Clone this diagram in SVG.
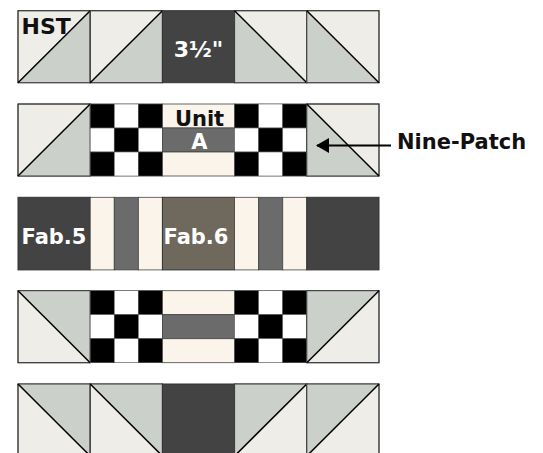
<svg xmlns="http://www.w3.org/2000/svg" width="543" height="453" viewBox="0 0 543 453">
<style>
.lt{fill:#efede8;stroke:#444;stroke-width:1}
.gr{fill:#cbd0ca;stroke:none}
.dk{fill:#434343;stroke:#333;stroke-width:1}
.br{fill:#6e685d;stroke:#333;stroke-width:1}
.cr{fill:#faf4ea;stroke:#444;stroke-width:0.8}
.gs{fill:#6b6b6b;stroke:#444;stroke-width:0.8}
.bk{fill:#000;stroke:#555;stroke-width:0.6}
.wh{fill:#fff;stroke:#555;stroke-width:0.6}
.dg{stroke:#000;stroke-width:1.5;fill:none}
.ol{fill:none;stroke:#3a3a3a;stroke-width:1}
.t{font-family:"DejaVu Sans","Liberation Sans",sans-serif;font-weight:bold}
.w{fill:#fff}
.b{fill:#111}
</style>
<defs>
<g id="np">
<rect class="wh" x="0" y="0" width="72.2" height="72"/>
<rect class="bk" x="0" y="0" width="24.07" height="24"/>
<rect class="wh" x="24.07" y="0" width="24.07" height="24"/>
<rect class="bk" x="48.13" y="0" width="24.07" height="24"/>
<rect class="wh" x="0" y="24" width="24.07" height="24"/>
<rect class="bk" x="24.07" y="24" width="24.07" height="24"/>
<rect class="wh" x="48.13" y="24" width="24.07" height="24"/>
<rect class="bk" x="0" y="48" width="24.07" height="24"/>
<rect class="wh" x="24.07" y="48" width="24.07" height="24"/>
<rect class="bk" x="48.13" y="48" width="24.07" height="24"/>
</g>
<g id="hstA">
<rect class="lt" x="0" y="0" width="72.2" height="72"/>
<polygon class="gr" points="0,72 72.2,0 72.2,72"/>
<rect class="ol" x="0" y="0" width="72.2" height="72"/>
<line class="dg" x1="0" y1="72" x2="72.2" y2="0"/>
</g>
<g id="hstB">
<rect class="lt" x="0" y="0" width="72.2" height="72"/>
<polygon class="gr" points="0,0 72.2,72 0,72"/>
<rect class="ol" x="0" y="0" width="72.2" height="72"/>
<line class="dg" x1="0" y1="0" x2="72.2" y2="72"/>
</g>
<g id="hstC">
<rect class="lt" x="0" y="0" width="72.2" height="72"/>
<polygon class="gr" points="0,0 72.2,0 72.2,72"/>
<rect class="ol" x="0" y="0" width="72.2" height="72"/>
<line class="dg" x1="0" y1="0" x2="72.2" y2="72"/>
</g>
<g id="hstD">
<rect class="lt" x="0" y="0" width="72.2" height="72"/>
<polygon class="gr" points="0,0 72.2,0 0,72"/>
<rect class="ol" x="0" y="0" width="72.2" height="72"/>
<line class="dg" x1="0" y1="72" x2="72.2" y2="0"/>
</g>
<g id="hstripe">
<rect class="cr" x="0" y="0" width="72.2" height="24"/>
<rect class="gs" x="0" y="24" width="72.2" height="24"/>
<rect class="cr" x="0" y="48" width="72.2" height="24"/>
</g>
<g id="vstripe">
<rect class="cr" x="0" y="0" width="24.07" height="72.6"/>
<rect class="gs" x="24.07" y="0" width="24.07" height="72.6"/>
<rect class="cr" x="48.13" y="0" width="24.07" height="72.6"/>
</g>
<marker id="ah" markerWidth="13" markerHeight="15" refX="12" refY="7.5" orient="auto" markerUnits="userSpaceOnUse">
<polygon points="0,0 13,7.5 0,15" fill="#000"/>
</marker>
</defs>

<g id="row1">
<use href="#hstA" x="18" y="10.7"/>
<use href="#hstA" x="90.2" y="10.7"/>
<rect class="dk" x="162.4" y="10.7" width="72.2" height="72"/>
<use href="#hstB" x="234.6" y="10.7"/>
<use href="#hstB" x="306.8" y="10.7"/>
<text class="t b" x="21.5" y="33.5" font-size="22">HST</text>
<text class="t w" x="198.5" y="57" font-size="22" text-anchor="middle">3½"</text>
</g>

<g id="row2">
<use href="#hstA" x="18" y="104"/>
<use href="#np" x="90.2" y="104"/>
<use href="#hstripe" x="162.4" y="104"/>
<use href="#np" x="234.6" y="104"/>
<use href="#hstB" x="306.8" y="104"/>
<text class="t b" x="199.5" y="125.5" font-size="21" text-anchor="middle">Unit</text>
<text class="t w" x="199.5" y="149" font-size="21" text-anchor="middle">A</text>
</g>

<g id="row3">
<rect class="dk" x="18" y="197.3" width="72.2" height="72.6"/>
<use href="#vstripe" x="90.2" y="197.3"/>
<rect class="br" x="162.4" y="197.3" width="72.2" height="72.6"/>
<use href="#vstripe" x="234.6" y="197.3"/>
<rect class="dk" x="306.8" y="197.3" width="72.2" height="72.6"/>
<text class="t w" x="54" y="244" font-size="21" text-anchor="middle">Fab.5</text>
<text class="t w" x="196" y="244" font-size="21" text-anchor="middle">Fab.6</text>
</g>

<g id="row4">
<use href="#hstC" x="18" y="290.7"/>
<use href="#np" x="90.2" y="290.7"/>
<use href="#hstripe" x="162.4" y="290.7"/>
<use href="#np" x="234.6" y="290.7"/>
<use href="#hstD" x="306.8" y="290.7"/>
</g>

<g id="row5">
<use href="#hstC" x="18" y="384"/>
<use href="#hstC" x="90.2" y="384"/>
<rect class="dk" x="162.4" y="384" width="72.2" height="72"/>
<use href="#hstD" x="234.6" y="384"/>
<use href="#hstD" x="306.8" y="384"/>
</g>

<g id="label-ninepatch">
<text class="t b" x="397" y="148.5" font-size="21">Nine-Patch</text>
</g>

<g id="connectors">
<line x1="391" y1="145.5" x2="317" y2="145.5" stroke="#000" stroke-width="2" marker-end="url(#ah)"/>
</g>
</svg>
